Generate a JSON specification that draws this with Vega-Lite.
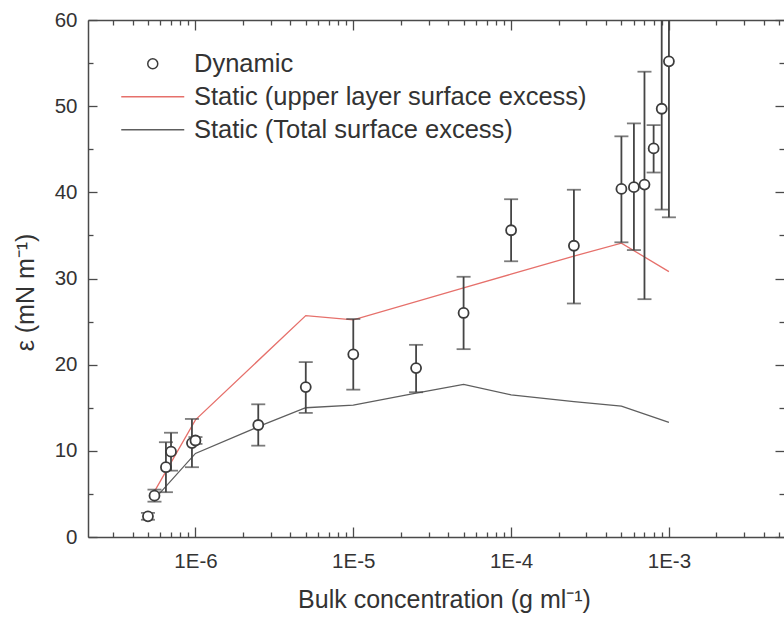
{
  "$schema": "https://vega.github.io/schema/vega-lite/v6.json",
  "width": 696,
  "height": 517,
  "autosize": {"type": "none"},
  "padding": {"left": 88, "top": 20, "right": 0, "bottom": 82},
  "background": "white",
  "config": {
    "view": {"stroke": null},
    "font": "Liberation Sans",
    "axis": {
      "domainColor": "#4a4a4a",
      "domainWidth": 1.5,
      "tickColor": "#4a4a4a",
      "tickWidth": 1.3,
      "labelColor": "#333333",
      "titleColor": "#333333",
      "labelFont": "Liberation Sans",
      "titleFont": "Liberation Sans",
      "titleFontWeight": "normal",
      "grid": false,
      "labelFontSize": 20.5,
      "titleFontSize": 25,
      "labelFlush": false,
      "labelOverlap": false
    }
  },
  "datasets": {
    "dynamic": [
      {"c": 5.0e-7, "e": 2.4, "lo": 2.0, "hi": 2.8, "series": "Dynamic"},
      {"c": 5.5e-7, "e": 4.8, "lo": 4.1, "hi": 5.5, "series": "Dynamic"},
      {"c": 6.5e-7, "e": 8.1, "lo": 5.2, "hi": 11.0, "series": "Dynamic"},
      {"c": 7.0e-7, "e": 9.9, "lo": 7.7, "hi": 12.1, "series": "Dynamic"},
      {"c": 9.5e-7, "e": 10.9, "lo": 8.1, "hi": 13.7, "series": "Dynamic"},
      {"c": 1.0e-6, "e": 11.2, "lo": 10.8, "hi": 11.6, "series": "Dynamic"},
      {"c": 2.5e-6, "e": 13.0, "lo": 10.6, "hi": 15.4, "series": "Dynamic"},
      {"c": 5.0e-6, "e": 17.4, "lo": 14.4, "hi": 20.3, "series": "Dynamic"},
      {"c": 1.0e-5, "e": 21.2, "lo": 17.1, "hi": 25.3, "series": "Dynamic"},
      {"c": 2.5e-5, "e": 19.6, "lo": 16.8, "hi": 22.3, "series": "Dynamic"},
      {"c": 5.0e-5, "e": 26.0, "lo": 21.8, "hi": 30.2, "series": "Dynamic"},
      {"c": 1.0e-4, "e": 35.6, "lo": 32.0, "hi": 39.2, "series": "Dynamic"},
      {"c": 2.5e-4, "e": 33.8, "lo": 27.1, "hi": 40.3, "series": "Dynamic"},
      {"c": 5.0e-4, "e": 40.4, "lo": 34.2, "hi": 46.5, "series": "Dynamic"},
      {"c": 6.0e-4, "e": 40.6, "lo": 33.3, "hi": 48.0, "series": "Dynamic"},
      {"c": 7.0e-4, "e": 40.9, "lo": 27.6, "hi": 54.0, "series": "Dynamic"},
      {"c": 8.0e-4, "e": 45.1, "lo": 42.3, "hi": 47.8, "series": "Dynamic"},
      {"c": 9.0e-4, "e": 49.7, "lo": 38.0, "hi": 61.4, "series": "Dynamic"},
      {"c": 1.0e-3, "e": 55.2, "lo": 37.1, "hi": 73.3, "series": "Dynamic"}
    ],
    "upper": [
      {"c": 5.5e-7, "e": 5.3, "series": "Static (upper layer surface excess)"},
      {"c": 1.0e-6, "e": 13.6, "series": "Static (upper layer surface excess)"},
      {"c": 5.0e-6, "e": 25.7, "series": "Static (upper layer surface excess)"},
      {"c": 1.0e-5, "e": 25.2, "series": "Static (upper layer surface excess)"},
      {"c": 5.0e-5, "e": 28.9, "series": "Static (upper layer surface excess)"},
      {"c": 1.0e-4, "e": 30.5, "series": "Static (upper layer surface excess)"},
      {"c": 2.5e-4, "e": 32.6, "series": "Static (upper layer surface excess)"},
      {"c": 5.0e-4, "e": 34.1, "series": "Static (upper layer surface excess)"},
      {"c": 1.0e-3, "e": 30.8, "series": "Static (upper layer surface excess)"}
    ],
    "total": [
      {"c": 5.5e-7, "e": 4.4, "series": "Static (Total surface excess)"},
      {"c": 1.0e-6, "e": 9.7, "series": "Static (Total surface excess)"},
      {"c": 2.5e-6, "e": 12.8, "series": "Static (Total surface excess)"},
      {"c": 5.0e-6, "e": 15.0, "series": "Static (Total surface excess)"},
      {"c": 1.0e-5, "e": 15.3, "series": "Static (Total surface excess)"},
      {"c": 2.5e-5, "e": 16.7, "series": "Static (Total surface excess)"},
      {"c": 5.0e-5, "e": 17.7, "series": "Static (Total surface excess)"},
      {"c": 1.0e-4, "e": 16.5, "series": "Static (Total surface excess)"},
      {"c": 2.5e-4, "e": 15.7, "series": "Static (Total surface excess)"},
      {"c": 5.0e-4, "e": 15.2, "series": "Static (Total surface excess)"},
      {"c": 1.0e-3, "e": 13.3, "series": "Static (Total surface excess)"}
    ]
  },
  "resolve": {"axis": {"x": "independent", "y": "independent"}},
  "layer": [
    {
      "data": {"name": "upper"},
      "mark": {"type": "line", "strokeWidth": 1.3, "clip": true},
      "encoding": {
        "x": {
          "field": "c", "type": "quantitative",
          "scale": {"type": "log", "domain": [2.085e-7, 5.36e-3], "nice": false},
          "axis": {
            "orient": "bottom",
            "values": [1e-6, 1e-5, 1e-4, 1e-3],
            "labelExpr": "'1E' + round(log(datum.value)/LN10)",
            "ticks": false,
            "labelBaseline": "alphabetic",
            "labelPadding": 30,
            "title": "Bulk concentration (g ml⁻¹)",
            "titleX": 356,
            "titleY": 70,
            "titleBaseline": "alphabetic",
            "titleAnchor": null
          }
        },
        "y": {
          "field": "e", "type": "quantitative",
          "scale": {"domain": [0, 60], "nice": false, "zero": false},
          "axis": {
            "orient": "left",
            "values": [0, 10, 20, 30, 40, 50, 60],
            "ticks": false,
            "labelPadding": 11,
            "title": "ε (mN m⁻¹)",
            "titleX": -63,
            "titleY": 272,
            "titleAngle": 270,
            "titleAlign": "center",
            "titleBaseline": "middle",
            "titleAnchor": null
          }
        },
        "color": {
          "field": "series", "type": "nominal",
          "scale": {
            "domain": ["Dynamic", "Static (upper layer surface excess)", "Static (Total surface excess)"],
            "range": ["#3c3c3c", "#e6706b", "#5e5e5e"]
          },
          "legend": {
            "orient": "none", "legendX": 52, "legendY": 31, "title": null,
            "labelFontSize": 25.5, "labelColor": "#333333", "labelFont": "Liberation Sans",
            "labelLimit": 0,
            "symbolSize": 100, "symbolStrokeWidth": 1.5, "rowPadding": 6,
            "labelOffset": 28.5, "padding": 0, "symbolOffset": 0
          }
        }
      }
    },
    {
      "data": {"name": "total"},
      "mark": {"type": "line", "strokeWidth": 1.3, "clip": true},
      "encoding": {
        "x": {
          "field": "c", "type": "quantitative",
          "scale": {"type": "log", "domain": [2.085e-7, 5.36e-3], "nice": false},
          "axis": {
            "orient": "top",
            "values": [1e-6, 1e-5, 1e-4, 1e-3],
            "labels": false,
            "tickSize": -10,
            "title": null
          }
        },
        "y": {
          "field": "e", "type": "quantitative",
          "scale": {"domain": [0, 60], "nice": false, "zero": false},
          "axis": {
            "orient": "right",
            "values": [0, 10, 20, 30, 40, 50, 60],
            "labels": false,
            "domain": false,
            "tickSize": -9,
            "title": null
          }
        },
        "color": {"field": "series", "type": "nominal"}
      }
    },
    {
      "data": {"name": "dynamic"},
      "mark": {"type": "rule", "color": "#454545", "strokeWidth": 1.8, "clip": true},
      "encoding": {
        "x": {
          "field": "c", "type": "quantitative",
          "scale": {"type": "log", "domain": [2.085e-7, 5.36e-3], "nice": false},
          "axis": {
            "orient": "bottom",
            "values": [3e-7, 4e-7, 5e-7, 6e-7, 7e-7, 8e-7, 9e-7, 2e-6, 3e-6, 4e-6, 5e-6, 6e-6, 7e-6, 8e-6, 9e-6, 2e-5, 3e-5, 4e-5, 5e-5, 6e-5, 7e-5, 8e-5, 9e-5, 2e-4, 3e-4, 4e-4, 5e-4, 6e-4, 7e-4, 8e-4, 9e-4, 2e-3, 3e-3, 4e-3, 5e-3],
            "labels": false,
            "domain": false,
            "tickSize": -5,
            "title": null
          }
        },
        "y": {
          "field": "lo", "type": "quantitative",
          "scale": {"domain": [0, 60], "nice": false, "zero": false},
          "axis": {
            "orient": "left",
            "values": [5, 15, 25, 35, 45, 55],
            "labels": false,
            "domain": false,
            "tickSize": -5,
            "title": null
          }
        },
        "y2": {"field": "hi"}
      }
    },
    {
      "data": {"name": "dynamic"},
      "mark": {"type": "tick", "orient": "horizontal", "color": "#454545", "size": 14, "thickness": 1.8, "clip": true},
      "encoding": {
        "x": {
          "field": "c", "type": "quantitative",
          "scale": {"type": "log", "domain": [2.085e-7, 5.36e-3], "nice": false},
          "axis": {
            "orient": "top",
            "values": [3e-7, 4e-7, 5e-7, 6e-7, 7e-7, 8e-7, 9e-7, 2e-6, 3e-6, 4e-6, 5e-6, 6e-6, 7e-6, 8e-6, 9e-6, 2e-5, 3e-5, 4e-5, 5e-5, 6e-5, 7e-5, 8e-5, 9e-5, 2e-4, 3e-4, 4e-4, 5e-4, 6e-4, 7e-4, 8e-4, 9e-4, 2e-3, 3e-3, 4e-3, 5e-3],
            "labels": false,
            "domain": false,
            "tickSize": -5,
            "title": null
          }
        },
        "y": {
          "field": "lo", "type": "quantitative",
          "scale": {"domain": [0, 60], "nice": false, "zero": false},
          "axis": {
            "orient": "right",
            "values": [5, 15, 25, 35, 45, 55],
            "labels": false,
            "domain": false,
            "tickSize": -5,
            "title": null
          }
        }
      }
    },
    {
      "data": {"name": "dynamic"},
      "mark": {"type": "tick", "orient": "horizontal", "color": "#454545", "size": 14, "thickness": 1.8, "clip": true},
      "encoding": {
        "x": {
          "field": "c", "type": "quantitative",
          "scale": {"type": "log", "domain": [2.085e-7, 5.36e-3], "nice": false},
          "axis": {
            "orient": "bottom",
            "values": [1e-6, 1e-5, 1e-4, 1e-3],
            "labels": false,
            "domain": false,
            "tickSize": -10,
            "title": null
          }
        },
        "y": {
          "field": "hi", "type": "quantitative",
          "scale": {"domain": [0, 60], "nice": false, "zero": false},
          "axis": {
            "orient": "left",
            "values": [0, 10, 20, 30, 40, 50, 60],
            "labels": false,
            "domain": false,
            "tickSize": -9,
            "title": null
          }
        }
      }
    },
    {
      "data": {"name": "dynamic"},
      "mark": {"type": "point", "filled": false, "fill": "white", "size": 100, "strokeWidth": 1.8, "opacity": 1, "clip": true},
      "encoding": {
        "x": {"field": "c", "type": "quantitative", "scale": {"type": "log", "domain": [2.085e-7, 5.36e-3], "nice": false}, "axis": null},
        "y": {"field": "e", "type": "quantitative", "scale": {"domain": [0, 60], "nice": false, "zero": false}, "axis": null},
        "color": {"field": "series", "type": "nominal"},
        "shape": {
          "field": "series", "type": "nominal",
          "scale": {
            "domain": ["Dynamic", "Static (upper layer surface excess)", "Static (Total surface excess)"],
            "range": ["circle", "M-6.3,0L6.3,0", "M-6.3,0L6.3,0"]
          }
        }
      }
    }
  ]
}
